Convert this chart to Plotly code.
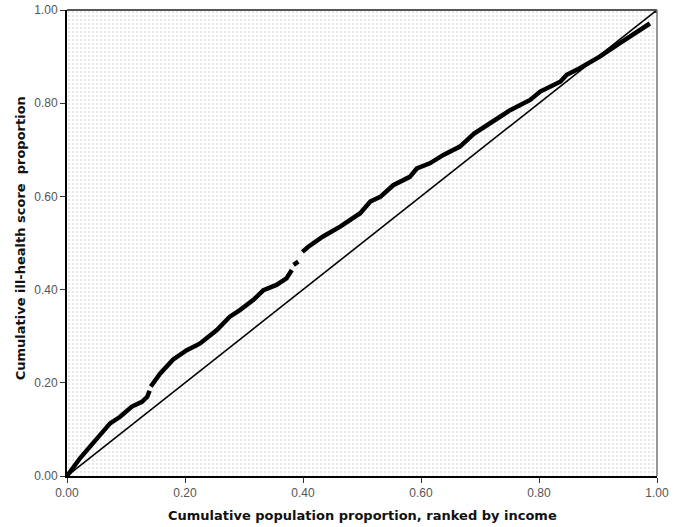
import plotly.graph_objects as go

# Concentration curve (None marks visible gaps in the plotted points)
conc_x = [0.000, 0.022, 0.039, 0.056, 0.073, 0.090, 0.110, 0.127, 0.136, 0.140, None,
          0.142, 0.158, 0.180, 0.203, 0.225, 0.254, 0.276, 0.293, 0.316, 0.333, 0.355,
          0.372, 0.381, None,
          0.384, 0.392, None,
          0.399, 0.409, 0.434, 0.463, 0.497, 0.514, 0.531, 0.553, 0.581, 0.593, 0.615,
          0.638, 0.666, 0.690, 0.717, 0.751, 0.785, 0.802, 0.836, 0.847, 0.869, 0.903,
          0.937, 0.966, 0.988]
conc_y = [0.000, 0.038, 0.063, 0.088, 0.113, 0.127, 0.149, 0.159, 0.170, 0.183, None,
          0.192, 0.220, 0.250, 0.270, 0.284, 0.313, 0.342, 0.356, 0.378, 0.399, 0.410,
          0.424, 0.442, None,
          0.453, 0.460, None,
          0.481, 0.492, 0.514, 0.535, 0.564, 0.589, 0.599, 0.624, 0.642, 0.660, 0.671,
          0.689, 0.707, 0.735, 0.757, 0.785, 0.807, 0.825, 0.846, 0.861, 0.875, 0.900,
          0.929, 0.953, 0.971]
end_x = [1.0]
end_y = [1.0]

# Line of equality
eq_x = [0.0, 1.0]
eq_y = [0.0, 1.0]

axis_range = [0.0, 1.0]
tick_vals = [0.0, 0.2, 0.4, 0.6, 0.8, 1.0]
tick_text = ["0.00", "0.20", "0.40", "0.60", "0.80", "1.00"]

x_title = "Cumulative population proportion, ranked by income"
y_title = "Cumulative ill-health score  proportion"

TITLE_FONT = dict(family="DejaVu Sans, Verdana, sans-serif", size=13, color="#111")
TICK_FONT = dict(family="Liberation Sans, Arial, sans-serif", size=12, color="#555")

fig = go.Figure()

# stippled background
fig.add_trace(go.Scatter(
    x=[axis_range[0], axis_range[1], axis_range[1], axis_range[0], axis_range[0]],
    y=[axis_range[0], axis_range[0], axis_range[1], axis_range[1], axis_range[0]],
    fill="toself", mode="none", fillcolor="white",
    fillpattern=dict(shape=".", fgcolor="#8c8c8c", bgcolor="white", size=4, solidity=0.12),
    hoverinfo="skip", showlegend=False))

fig.add_trace(go.Scatter(x=eq_x, y=eq_y, mode="lines",
                         line=dict(color="black", width=1.6), showlegend=False))

fig.add_trace(go.Scatter(x=conc_x, y=conc_y, mode="lines",
                         line=dict(color="black", width=4.5, shape="linear"),
                         connectgaps=False, showlegend=False))

fig.add_trace(go.Scatter(x=end_x, y=end_y, mode="markers",
                         marker=dict(color="black", size=6), showlegend=False))

axis_common = dict(
    range=axis_range, tickvals=tick_vals, ticktext=tick_text,
    ticks="outside", ticklen=5, tickwidth=1, tickcolor="#333",
    showgrid=False, zeroline=False, showline=True, linecolor="black", linewidth=2,
    tickfont=TICK_FONT, automargin=False,
)

fig.update_xaxes(**axis_common)
fig.update_yaxes(**axis_common)

fig.add_annotation(text="<b>" + x_title + "</b>", xref="paper", yref="paper",
                   x=0.5, y=0, xanchor="center", yanchor="middle", yshift=-39,
                   showarrow=False, font=TITLE_FONT)
fig.add_annotation(text="<b>" + y_title + "</b>", xref="paper", yref="paper",
                   x=0, y=0.51, xanchor="center", yanchor="middle", xshift=-47,
                   textangle=-90, showarrow=False, font=TITLE_FONT)

# top / right frame
fig.add_shape(type="line", xref="paper", yref="paper", x0=0, y0=1, x1=1, y1=1,
              line=dict(color="#555", width=2))
fig.add_shape(type="line", xref="paper", yref="paper", x0=1, y0=0, x1=1, y1=1,
              line=dict(color="#777", width=1.5))

fig.update_layout(
    width=678, height=527,
    margin=dict(l=67, r=21, t=10, b=51),
    paper_bgcolor="white", plot_bgcolor="white",
    showlegend=False,
)

fig.write_html("out.html", config={"displayModeBar": False},
               post_script="document.body.style.margin='0';")
